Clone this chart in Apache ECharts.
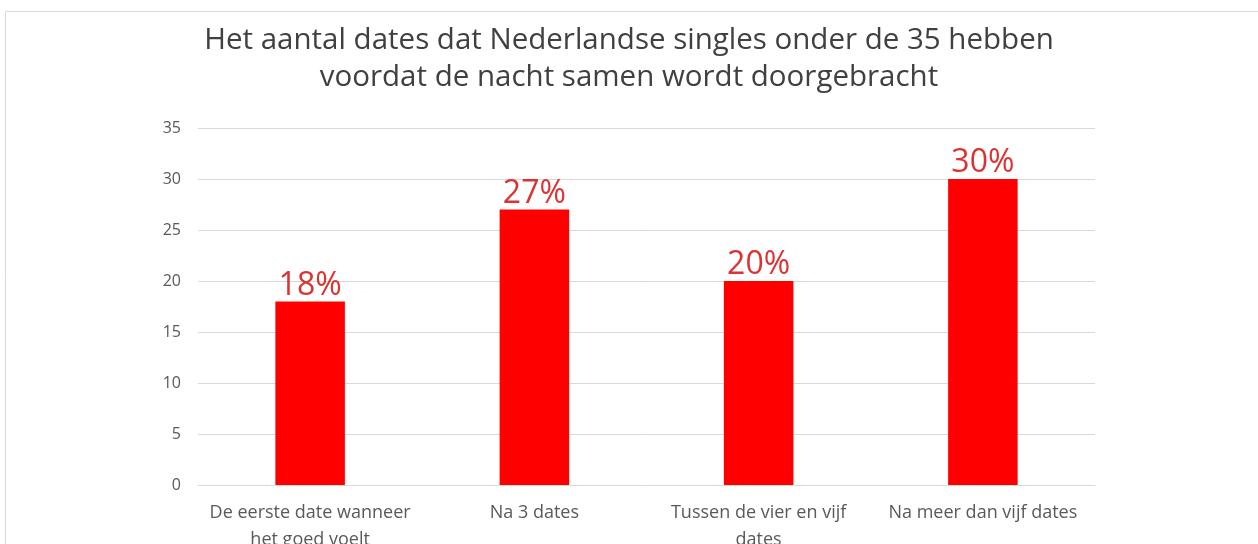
<!DOCTYPE html>
<html>
<head>
<meta charset="utf-8">
<script src="https://cdn.jsdelivr.net/npm/echarts@6/dist/echarts.min.js"></script>
<style>
  html, body { margin: 0; padding: 0; background: #fff; }
  #main { width: 1258px; height: 544px; }
</style>
</head>
<body>
<div id="main"></div>
<script>
var categories = ['De eerste date wanneer\nhet goed voelt', 'Na 3 dates', 'Tussen de vier en vijf\ndates', 'Na meer dan vijf dates'];
var values = [18, 27, 20, 30];
var labels = ['18%', '27%', '20%', '30%'];

var chart = echarts.init(document.getElementById('main'));

var option = {
  backgroundColor: '#fff',
  animation: false,
  title: {
    text: 'Het aantal dates dat Nederlandse singles onder de 35 hebben\nvoordat de nacht samen wordt doorgebracht',
    left: 'center',
    top: 17,
    textStyle: {
      fontFamily: 'Open Sans',
      fontWeight: 'normal',
      fontSize: 29.5,
      color: '#404040',
      lineHeight: 37
    }
  },
  graphic: [{
    type: 'rect',
    shape: { x: 5.5, y: 11.5, width: 1300, height: 600 },
    style: { fill: 'none', stroke: '#d9d9d9', lineWidth: 1 },
    silent: true
  }],
  grid: {
    left: 198, right: 163, top: 128, bottom: 59,
    outerBoundsMode: 'none',
    containLabel: false
  },
  xAxis: {
    type: 'category',
    data: categories,
    axisLine: { lineStyle: { color: '#d9d9d9', width: 1 } },
    axisTick: { show: false },
    axisLabel: {
      fontFamily: 'Open Sans',
      fontSize: 18,
      color: '#595959',
      lineHeight: 27,
      margin: 14,
      interval: 0
    }
  },
  yAxis: {
    type: 'value',
    min: 0,
    max: 35,
    interval: 5,
    axisLine: { show: false },
    axisTick: { show: false },
    splitLine: { lineStyle: { color: '#d9d9d9', width: 1 } },
    axisLabel: {
      fontFamily: 'Open Sans',
      fontSize: 16,
      color: '#595959',
      margin: 17
    }
  },
  series: [{
    type: 'bar',
    data: values,
    barWidth: '31%',
    itemStyle: { color: '#ff0000' },
    label: {
      show: true,
      position: 'top',
      distance: 0,
      fontFamily: 'Open Sans',
      fontSize: 32,
      color: '#dc3232',
      formatter: function (p) { return labels[p.dataIndex]; }
    }
  }]
};

chart.setOption(option);
</script>
</body>
</html>
